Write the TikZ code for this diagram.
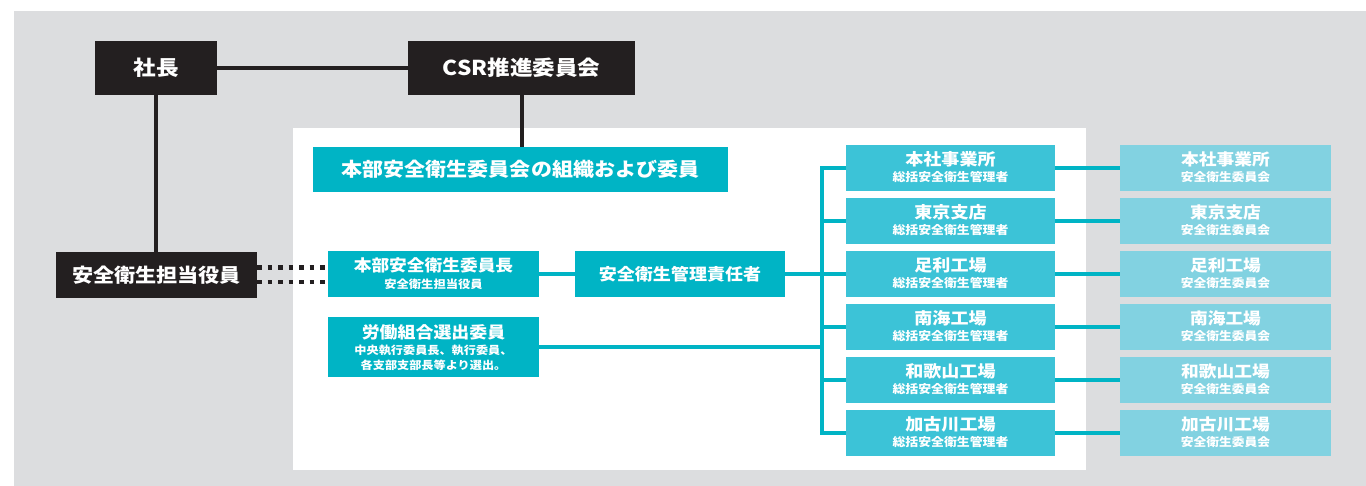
\documentclass[tikz,border=0pt]{standalone}
\usepackage{fontspec}
\setmainfont{Noto Sans CJK JP}[FakeStretch=1.1]
\definecolor{cgray}{HTML}{DCDDDF}
\definecolor{cblack}{HTML}{231F20}
\definecolor{ctealA}{HTML}{00B4C5}
\definecolor{ctealB}{HTML}{3CC3D7}
\definecolor{ctealC}{HTML}{82D2E1}
\newcommand{\fs}[1]{\fontsize{#1}{#1}\selectfont}
\tikzset{
  every node/.style={inner sep=0pt, outer sep=0pt},
  bbox/.style={fill=cblack, text=white, font=\bfseries\fs{20.5}},
  tbox/.style={fill=ctealA, text=white, font=\bfseries\fs{16.1}},
  cbox/.style={fill=ctealB, minimum width=209pt, minimum height=46pt},
  dbox/.style={fill=ctealC, minimum width=211pt, minimum height=46pt},
  ttl/.style={text=white, font=\bfseries\fs{16.3}},
  sbt/.style={text=white, font=\bfseries\fs{11.65}},
  bline/.style={draw=cblack, line width=4pt},
  tline/.style={draw=ctealA, line width=4.5pt, line join=miter},
  dotl/.style={draw=cblack, line width=4.5pt, dash pattern=on 4.5pt off 6pt}
}
\begin{document}
\begin{tikzpicture}[x=1pt,y=-1pt]
\useasboundingbox (0,0) rectangle (1366,486);
\fill[cgray] (14,11) rectangle (1366,486);
\fill[white] (293,128) rectangle (1086,470);

% black boxes
\node[bbox, minimum width=122pt, minimum height=54pt] (shacho) at (156,68) {社長};
\node[bbox, minimum width=227pt, minimum height=54pt] (csr) at (521.5,68) {CSR推進委員会};
\node[bbox, minimum width=201pt, minimum height=46pt, font=\bfseries\fs{19.2}] (yakuin) at (156.5,275) {安全衛生担当役員};

% teal boxes
\node[tbox, minimum width=415pt, minimum height=45pt, font=\bfseries\fs{19.1}] (title) at (520.5,169.5) {本部安全衛生委員会の組織および委員};
\node[tbox, minimum width=211pt, minimum height=46pt] (iincho) at (433.5,274) {};
\node[ttl, font=\bfseries\fs{16.1}] (iinchoT) at ([yshift=8.3pt]iincho.center) {本部安全衛生委員長};
\node[sbt, font=\bfseries\fs{11.15}] (iinchoS) at ([yshift=-10.3pt]iincho.center) {安全衛生担当役員};
\node[tbox, minimum width=210pt, minimum height=46pt, font=\bfseries\fs{16.4}] (sekinin) at (680,274) {安全衛生管理責任者};
\node[tbox, minimum width=211pt, minimum height=60pt] (roudou) at (433.5,347) {};
\node[ttl] (roudouT) at ([yshift=15pt]roudou.center) {労働組合選出委員};
\node[sbt, font=\bfseries\fs{11.05}] (roudouS1) at ([yshift=-3.5pt]roudou.center) {中央執行委員長、執行委員、};
\node[sbt, font=\bfseries\fs{11.05}] (roudouS2) at ([yshift=-18pt]roudou.center) {各支部支部長等より選出。};

% column 1
\node[cbox] (a1) at (950.5,168) {};
\node[cbox] (a2) at (950.5,221) {};
\node[cbox] (a3) at (950.5,274) {};
\node[cbox] (a4) at (950.5,327) {};
\node[cbox] (a5) at (950.5,380) {};
\node[cbox] (a6) at (950.5,433) {};
% column 2
\node[dbox] (b1) at (1225.5,168) {};
\node[dbox] (b2) at (1225.5,221) {};
\node[dbox] (b3) at (1225.5,274) {};
\node[dbox] (b4) at (1225.5,327) {};
\node[dbox] (b5) at (1225.5,380) {};
\node[dbox] (b6) at (1225.5,433) {};

\foreach \n/\t in {1/本社事業所,2/東京支店,3/足利工場,4/南海工場,5/和歌山工場,6/加古川工場}{
  \node[ttl, font=\bfseries\fs{16.4}] (a\n T) at ([yshift=9pt]a\n.center) {\t};
  \node[sbt, font=\bfseries\fs{11.7}] (a\n S) at ([yshift=-9.5pt]a\n.center) {総括安全衛生管理者};
  \node[ttl, font=\bfseries\fs{16.1}] (b\n T) at ([yshift=9pt]b\n.center) {\t};
  \node[sbt, font=\bfseries\fs{11.6}] (b\n S) at ([yshift=-9.5pt]b\n.center) {安全衛生委員会};
  \draw[tline] (a\n.east) -- (b\n.west);
}

% black connectors
\draw[bline] (shacho.east) -- (csr.west);
\draw[bline] (shacho.south) -- (shacho.south |- yakuin.north);
\draw[bline] (csr.south) -- (csr.south |- title.north);

% dotted connectors
\draw[dotl] ([yshift=7.5pt]yakuin.east) -- ([yshift=7.5pt]yakuin.east -| iincho.west);
\draw[dotl] ([yshift=-7pt]yakuin.east) -- ([yshift=-7pt]yakuin.east -| iincho.west);

% teal connectors
\coordinate (trx) at (822,0);
\draw[tline] (iincho.east) -- (sekinin.west);
\draw[tline] (a1.west) -- (a1.west -| trx) -- (a6.west -| trx) -- (a6.west);
\draw[tline] (sekinin.east) -- (a3.west);
\draw[tline] (a2.west -| trx) -- (a2.west);
\draw[tline] (a4.west -| trx) -- (a4.west);
\draw[tline] (a5.west -| trx) -- (a5.west);
\draw[tline] (roudou.east) -- (roudou.east -| trx);
\end{tikzpicture}
\end{document}
